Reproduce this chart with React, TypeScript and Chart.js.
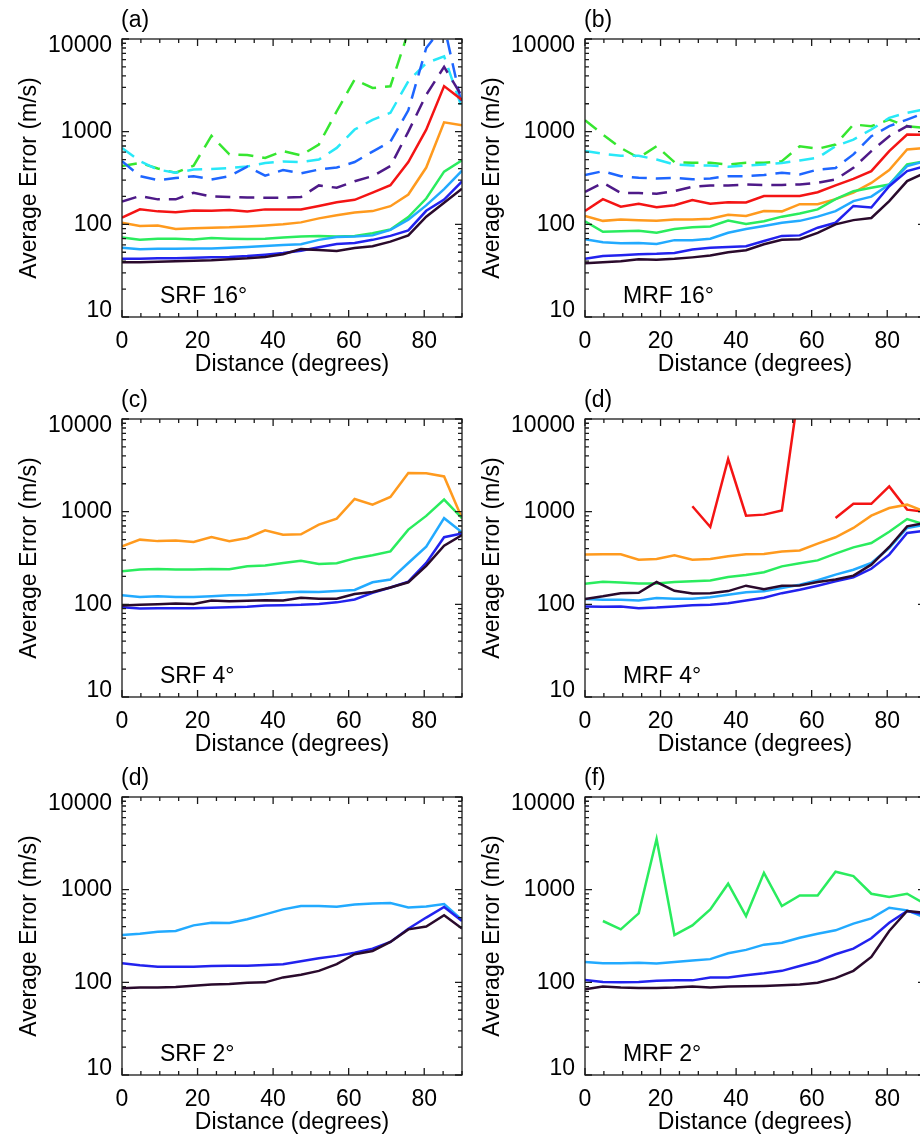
import React, { useEffect, useRef } from "react";
import { Chart, registerables } from "chart.js";
Chart.register(...registerables);

// ---------- data ----------
const DISTANCE = [0, 4.74, 9.47, 14.21, 18.95, 23.68, 28.42, 33.16, 37.89, 42.63, 47.37, 52.11, 56.84, 61.58, 66.32, 71.05, 75.79, 80.53, 85.26, 90];
const X_TICKS = [0, 20, 40, 60, 80];
const Y_TICKS = [10, 100, 1000, 10000];
const PANEL_LETTERS = ["(a)", "(b)", "(c)", "(d)", "(d)", "(f)"];
const PANEL_NAMES = ["SRF 16°", "MRF 16°", "SRF 4°", "MRF 4°", "SRF 2°", "MRF 2°"];
const X_TITLE = "Distance (degrees)";
const Y_TITLE = "Average Error (m/s)";

// (a) SRF 16°
const A_DARK = [39, 39, 39.5, 40, 40.5, 41, 42, 43, 44.5, 47.5, 54, 53, 51.5, 55.5, 58, 65, 76, 121, 171, 242];
const A_BLUE = [42.5, 42.5, 43, 43, 43.5, 44, 44.5, 45.5, 47, 49, 52, 56.5, 61.5, 63, 68, 75, 86, 140, 185, 290];
const A_LBLUE = [56, 54, 54.5, 54.5, 55, 55, 56, 57, 58.5, 60, 61, 68, 73, 74, 76, 87, 112, 160, 240, 380];
const A_GREEN = [72, 68, 70, 70, 68.5, 71, 70, 69.5, 70, 72, 74, 75, 74, 75, 80, 88, 120, 190, 370, 490];
const A_ORANGE = [104, 96, 97, 89, 90.5, 92, 93, 95, 97, 100, 105, 116, 125, 134, 139, 157, 210, 410, 1260, 1170];
const A_RED = [118, 145, 138, 135, 141, 140, 143, 138, 145, 145, 145, 158, 173, 184, 220, 264, 470, 1050, 3100, 2200];
const A_PURPLE_D = [176, 202, 186, 186, 219, 200, 197, 195, 194, 194, 197, 263, 248, 292, 331, 425, 1000, 2500, 5000, 2400];
const A_BLUE_D = [481, 331, 300, 316, 331, 305, 330, 420, 335, 385, 355, 390, 410, 470, 610, 780, 1700, 8000, 14000, 1900];
const A_CYAN_D = [668, 481, 390, 360, 390, 395, 405, 422, 458, 476, 470, 500, 668, 1055, 1340, 1600, 3500, 5500, 6500, 1800];
const A_GREEN_D = [425, 460, 400, 360, 430, 900, 570, 560, 520, 617, 555, 727, 1660, 3650, 2960, 3090, 12000, 20000, 20000, 20000];

// (b) MRF 16°
const B_DARK = [38, 39, 40, 42, 41.5, 42.5, 44, 46, 50, 52.5, 61, 68, 69, 81, 100, 111, 117, 178, 293, 360];
const B_BLUE = [42.5, 45.5, 46.5, 47.5, 48, 49, 53.5, 56, 57, 58, 66, 75, 76, 92, 104, 158, 152, 258, 375, 425];
const B_LBLUE = [69, 64, 62.5, 63, 61.5, 67.5, 67.5, 70, 81, 89, 96, 104, 109, 121, 139, 178, 199, 269, 425, 481];
const B_GREEN = [108, 83, 84, 85, 81, 89, 93, 95, 110, 101, 108, 121, 131, 145, 187, 228, 248, 269, 443, 481];
const B_ORANGE = [123, 109, 113, 111, 109, 113, 113, 115, 127, 123, 139, 138, 165, 165, 187, 220, 280, 385, 642, 665];
const B_RED = [139, 187, 155, 167, 153, 161, 183, 167, 173, 172, 202, 202, 202, 222, 263, 310, 375, 616, 931, 925];
const B_PURPLE_D = [224, 281, 218, 218, 214, 228, 254, 263, 263, 269, 266, 266, 269, 281, 305, 407, 616, 893, 1146, 1055];
const B_BLUE_D = [340, 375, 331, 318, 313, 318, 306, 313, 331, 331, 340, 360, 346, 390, 405, 568, 893, 1146, 1350, 1600];
const B_CYAN_D = [617, 578, 550, 550, 500, 443, 432, 432, 418, 432, 443, 458, 489, 522, 697, 822, 1055, 1410, 1600, 1750];
const B_GREEN_D = [1330, 931, 668, 522, 697, 469, 461, 461, 443, 461, 461, 481, 697, 653, 726, 1195, 1146, 1350, 1146, 1100];

// (c) SRF 4°
const C_ORANGE = [423, 499, 481, 488, 470, 533, 481, 520, 630, 565, 570, 725, 840, 1370, 1190, 1440, 2610, 2600, 2400, 850];
const C_GREEN = [227, 237, 241, 237, 237, 241, 239, 257, 263, 279, 296, 272, 277, 313, 338, 373, 640, 900, 1350, 850];
const C_LBLUE = [125, 120, 122, 120, 120, 122, 125, 126, 129, 134, 137, 136, 139, 143, 173, 185, 279, 420, 850, 600];
const C_DARK = [97, 99, 100, 102, 101, 110, 108, 109, 111, 110, 118, 115, 115, 129, 136, 152, 173, 260, 430, 560];
const C_BLUE = [93, 90, 91, 91, 91, 92, 93, 94, 97, 98, 99, 101, 105, 113, 133, 152, 176, 280, 530, 580];

// (d) MRF 4°
const D_RED = [null, null, null, null, null, null, 1143, 684, 3700, 906, 929, 1032, 24000, null, 855, 1220, 1215, 1875, 1052, 1000];
const D_ORANGE = [344, 347, 347, 303, 308, 338, 303, 308, 330, 347, 350, 372, 381, 452, 529, 667, 906, 1096, 1190, 1000];
const D_GREEN = [167, 175, 172, 168, 168, 174, 178, 181, 197, 207, 222, 257, 277, 298, 352, 412, 459, 608, 833, 725];
const D_DARK = [114, 122, 132, 133, 174, 140, 131, 132, 139, 159, 146, 159, 160, 174, 185, 204, 268, 416, 695, 755];
const D_LBLUE = [114, 112, 112, 110, 117, 115, 115, 119, 127, 135, 138, 150, 163, 182, 209, 236, 279, 405, 667, 725];
const D_BLUE = [95, 94, 95, 91, 92.5, 95, 98, 99, 103, 110, 118, 132, 144, 159, 177, 196, 242, 344, 589, 622];

// (e) SRF 2°
const E_LBLUE = [324, 335, 352, 358, 412, 440, 436, 479, 541, 613, 665, 668, 653, 693, 711, 716, 644, 660, 700, 470];
const E_BLUE = [161, 153, 147, 147, 147, 150, 151, 151, 154, 157, 169, 182, 193, 209, 231, 273, 379, 500, 650, 460];
const E_DARK = [86.5, 88, 88, 89, 92, 94.6, 96, 99, 100, 113, 121, 133, 157, 201, 218, 273, 373, 400, 530, 380];

// (f) MRF 2°
const F_GREEN = [null, 459, 373, 555, 3530, 324, 412, 613, 1159, 519, 1520, 665, 867, 867, 1560, 1400, 904, 832, 904, 700];
const F_LBLUE = [166, 161, 161, 163, 160, 166, 172, 178, 206, 224, 255, 268, 303, 335, 364, 430, 490, 638, 598, 500];
const F_BLUE = [106, 101, 100, 101, 104, 105, 105, 113, 113, 119, 125, 133, 150, 169, 201, 231, 299, 440, 588, 540];
const F_DARK = [84, 90, 88, 87, 87, 88, 90, 88, 90, 90.5, 91.5, 93, 95, 99, 111, 133, 188, 358, 588, 565];

// ---------- styles ----------
const STYLES: Record<string, { color: string; dash: number[] }> = {
  dark: { color: "#2a0a2c", dash: [] },
  blue: { color: "#2222ee", dash: [] },
  lblue: { color: "#22aaff", dash: [] },
  green: { color: "#2aec5e", dash: [] },
  orange: { color: "#ff9a1e", dash: [] },
  red: { color: "#f41414", dash: [] },
  purpleD: { color: "#4e1a88", dash: [15, 9] },
  blueD: { color: "#1e66ff", dash: [15, 9] },
  cyanD: { color: "#28e8f8", dash: [15, 9] },
  greenD: { color: "#36e630", dash: [15, 9] },
};

const PANEL_SERIES: [string, (number | null)[]][][] = [
  [["dark", A_DARK], ["blue", A_BLUE], ["lblue", A_LBLUE], ["green", A_GREEN], ["orange", A_ORANGE], ["red", A_RED], ["purpleD", A_PURPLE_D], ["blueD", A_BLUE_D], ["cyanD", A_CYAN_D], ["greenD", A_GREEN_D]],
  [["dark", B_DARK], ["blue", B_BLUE], ["lblue", B_LBLUE], ["green", B_GREEN], ["orange", B_ORANGE], ["red", B_RED], ["purpleD", B_PURPLE_D], ["blueD", B_BLUE_D], ["cyanD", B_CYAN_D], ["greenD", B_GREEN_D]],
  [["dark", C_DARK], ["blue", C_BLUE], ["lblue", C_LBLUE], ["green", C_GREEN], ["orange", C_ORANGE]],
  [["dark", D_DARK], ["blue", D_BLUE], ["lblue", D_LBLUE], ["green", D_GREEN], ["orange", D_ORANGE], ["red", D_RED]],
  [["dark", E_DARK], ["blue", E_BLUE], ["lblue", E_LBLUE]],
  [["dark", F_DARK], ["blue", F_BLUE], ["lblue", F_LBLUE], ["green", F_GREEN]],
];

// ---------- layout ----------
const FONT_FAMILY = '"Liberation Sans", Arial, Helvetica, sans-serif';
const FONT_SIZE = 23;
const CANVAS_W = 474;
const CANVAS_H = 381;
const AXIS_LEFT = 122;
const PAD_TOP = 39;
const PAD_RIGHT = 12;
const AXIS_BOTTOM = 64;
const COL_LEFT = [0, 463];
const ROW_TOP = [0, 380, 758];
const MAJOR_LEN = 7;
const MINOR_LEN = 4;

const framePlugin = {
  id: "frame",
  afterDraw(chart: any, _args: any, opts: any) {
    const { ctx, chartArea } = chart;
    const { left, right, top, bottom } = chartArea;
    const xs = chart.scales.x;
    const ys = chart.scales.y;
    ctx.save();
    ctx.strokeStyle = "#1a1a1a";
    ctx.lineWidth = 1.3;
    ctx.strokeRect(left, top, right - left, bottom - top);
    ctx.beginPath();
    for (let v = 0; v <= 90; v += 5) {
      const px = xs.getPixelForValue(v);
      const len = v % 20 === 0 ? MAJOR_LEN : MINOR_LEN;
      ctx.moveTo(px, bottom);
      ctx.lineTo(px, bottom - len);
      ctx.moveTo(px, top);
      ctx.lineTo(px, top + len);
    }
    for (const d of [10, 100, 1000]) {
      for (let m = 1; m <= 10; m++) {
        const v = d * m;
        const py = ys.getPixelForValue(v);
        const len = m === 1 || m === 10 ? MAJOR_LEN : MINOR_LEN;
        ctx.moveTo(left, py);
        ctx.lineTo(left + len, py);
        ctx.moveTo(right, py);
        ctx.lineTo(right - len, py);
      }
    }
    ctx.stroke();

    ctx.fillStyle = "#000";
    ctx.font = `${FONT_SIZE}px ${FONT_FAMILY}`;
    ctx.textAlign = "right";
    ctx.textBaseline = "middle";
    Y_TICKS.forEach((v, i) => {
      let py = ys.getPixelForValue(v);
      if (i === Y_TICKS.length - 1) py += 7;
      if (i === 0) py -= 6;
      ctx.fillText(String(v), left - 10, py);
    });
    ctx.textAlign = "left";
    ctx.textBaseline = "alphabetic";
    ctx.fillText(opts.letter, left - 1, top - 12);
    ctx.fillText(opts.name, left + 38, bottom - 14);
    ctx.restore();
  },
};

function Panel({ index }: { index: number }) {
  const ref = useRef<HTMLCanvasElement>(null);
  useEffect(() => {
    const datasets = PANEL_SERIES[index].map(([key, values]) => ({
      label: key,
      data: values,
      borderColor: STYLES[key].color,
      borderDash: STYLES[key].dash,
      borderWidth: 2.5,
      pointRadius: 0,
      tension: 0,
      spanGaps: false,
      fill: false,
    }));
    const chart = new Chart(ref.current!, {
      type: "line",
      data: { labels: DISTANCE, datasets },
      options: {
        animation: false,
        responsive: false,
        devicePixelRatio: 1,
        layout: { padding: { top: PAD_TOP, right: PAD_RIGHT, left: 0, bottom: 0 } },
        plugins: {
          legend: { display: false },
          tooltip: { enabled: false },
          frame: { letter: PANEL_LETTERS[index], name: PANEL_NAMES[index] },
        } as any,
        scales: {
          x: {
            type: "linear",
            min: 0,
            max: 90,
            afterBuildTicks: (s: any) => {
              s.ticks = X_TICKS.map((v) => ({ value: v }));
            },
            afterFit: (s: any) => {
              s.height = AXIS_BOTTOM;
            },
            grid: { display: false, drawTicks: false },
            border: { display: false },
            ticks: {
              color: "#000",
              padding: 11,
              maxRotation: 0,
              font: { size: FONT_SIZE, family: FONT_FAMILY },
            },
            title: {
              display: true,
              text: X_TITLE,
              color: "#000",
              padding: { top: 0, bottom: 3 },
              font: { size: FONT_SIZE, family: FONT_FAMILY },
            },
          },
          y: {
            type: "logarithmic",
            min: 10,
            max: 10000,
            afterBuildTicks: (s: any) => {
              s.ticks = Y_TICKS.map((v) => ({ value: v }));
            },
            afterFit: (s: any) => {
              s.width = AXIS_LEFT;
            },
            grid: { display: false, drawTicks: false },
            border: { display: false },
            ticks: { display: false },
            title: {
              display: true,
              text: Y_TITLE,
              color: "#000",
              padding: { top: 16, bottom: 0 },
              font: { size: FONT_SIZE, family: FONT_FAMILY },
            },
          },
        },
      },
      plugins: [framePlugin],
    } as any);
    return () => chart.destroy();
  }, [index]);
  const col = index % 2;
  const row = Math.floor(index / 2);
  return (
    <canvas
      ref={ref}
      width={CANVAS_W}
      height={CANVAS_H}
      style={{ position: "absolute", left: COL_LEFT[col], top: ROW_TOP[row], width: CANVAS_W, height: CANVAS_H }}
    />
  );
}

export default function App() {
  return (
    <div style={{ position: "absolute", left: 0, top: 0, width: 920, height: 1141, overflow: "hidden", background: "#fff" }}>
      {PANEL_LETTERS.map((_, i) => (
        <Panel key={i} index={i} />
      ))}
    </div>
  );
}
